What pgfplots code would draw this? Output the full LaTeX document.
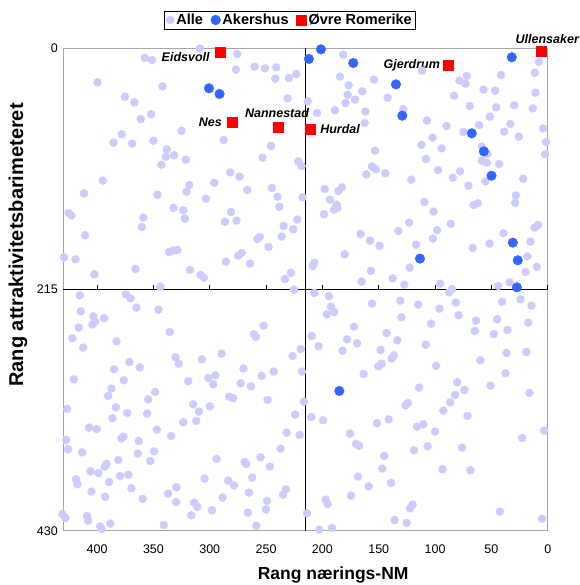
\documentclass[border=0pt]{standalone}
\usepackage{pgfplots}
\pgfplotsset{compat=1.18}
\usepackage{pgfplotstable}
\usepackage{fontspec}
\setmainfont{Liberation Sans}
\definecolor{alle}{RGB}{204,204,255}
\definecolor{akb}{RGB}{51,102,255}
\definecolor{ovr}{RGB}{255,0,0}

\pgfplotstableread{
x y
357.7 8.9
351.2 10.7
399.7 30.6
342.0 34.2
375.4 43.4
366.9 48.4
361.2 63.3
352.1 59.1
378.1 76.9
385.5 84.3
368.9 85.2
350.0 82.6
338.1 90.3
339.0 96.8
331.6 95.6
342.9 104.0
395.0 118.2
411.6 129.5
346.4 130.7
308.7 0.5
275.6 5.3
276.8 19.3
260.2 16.6
251.0 18.1
241.0 17.2
241.8 27.3
229.7 26.7
223.2 23.2
230.9 44.9
325.0 73.7
287.7 82.0
245.7 87.3
253.1 97.7
321.2 99.5
221.4 101.0
218.5 105.1
281.8 110.8
273.5 114.6
318.2 122.1
320.6 128.0
296.0 120.0
266.7 126.5
244.8 124.7
239.8 132.5
303.4 134.2
217.6 133.1
238.3 141.4
181.5 5.9
184.4 25.5
176.7 33.3
177.6 41.6
179.4 49.0
171.1 46.0
164.6 38.6
154.2 28.2
142.1 44.3
111.6 20.2
128.2 54.4
107.2 64.7
213.1 47.5
204.8 57.9
188.9 55.5
161.9 56.7
162.5 66.8
153.3 91.5
112.2 86.4
108.1 98.9
156.0 105.7
152.5 108.1
144.2 111.7
161.0 112.6
121.1 117.3
198.0 125.6
185.9 127.4
182.6 124.1
193.3 135.1
187.4 139.6
109.5 137.2
7.9 12.2
41.4 24.1
11.5 22.0
71.8 24.9
78.4 29.1
73.0 31.8
57.0 37.1
46.7 38.0
83.1 42.5
10.9 39.8
69.2 51.7
45.8 52.9
29.8 51.1
13.2 53.8
51.4 61.2
89.9 69.5
60.9 68.6
33.1 67.7
4.1 71.6
74.8 74.8
38.7 74.5
25.7 79.0
102.3 79.9
1.4 83.8
94.3 89.4
58.5 87.9
53.5 94.5
2.3 94.7
58.5 100.4
54.1 102.2
43.1 103.4
97.3 108.7
77.8 109.9
84.3 115.5
55.3 118.8
21.8 116.4
70.4 122.7
28.3 131.3
28.9 137.8
62.1 138.4
65.9 139.9
425.2 147.0
422.8 149.3
332.2 142.5
358.9 151.1
360.3 159.4
410.7 166.8
429.3 186.4
419.2 188.2
336.1 181.7
332.2 180.5
328.7 179.9
366.0 196.8
402.4 201.6
343.8 212.6
415.4 220.3
374.6 219.4
370.4 223.0
365.1 231.3
345.5 233.1
414.5 234.6
403.3 239.0
401.8 243.8
404.2 246.4
393.8 240.8
416.3 249.1
335.5 253.0
421.9 258.6
412.4 266.9
382.8 261.3
330.4 275.5
327.5 281.2
371.3 279.7
362.1 284.5
384.9 286.2
323.5 144.6
322.1 152.0
281.2 146.1
286.5 154.7
276.2 153.8
234.4 158.5
222.3 152.9
225.9 161.5
236.2 168.0
257.8 170.1
255.5 168.3
247.8 177.2
274.7 185.0
271.7 182.6
285.7 190.3
264.3 192.1
317.6 197.7
308.1 202.2
305.2 204.6
227.9 200.4
233.3 205.8
225.3 215.3
252.2 247.3
260.8 255.1
259.0 257.4
289.5 272.3
307.0 277.3
226.5 274.4
219.3 268.1
270.0 285.6
198.6 148.1
189.7 144.0
186.8 142.5
123.1 155.6
132.6 163.0
166.1 165.7
157.8 171.6
149.2 176.3
116.9 175.2
180.3 183.8
207.2 191.2
208.7 194.2
122.6 195.7
156.9 198.6
137.7 205.2
165.2 208.1
127.3 210.8
207.2 218.2
194.2 221.2
192.4 230.4
189.5 235.2
196.0 237.2
156.0 227.7
130.8 225.1
114.9 228.6
129.9 239.9
172.0 248.2
143.0 253.9
209.6 256.5
178.2 259.5
203.4 265.7
169.3 263.1
133.5 260.4
108.3 264.3
182.1 269.6
148.3 269.0
136.5 273.8
138.5 276.7
147.4 281.2
150.4 283.6
101.4 145.8
86.0 156.7
98.2 162.4
102.0 169.8
39.3 165.1
11.7 160.0
8.5 157.6
15.3 172.5
51.7 174.3
66.5 178.1
18.0 185.6
9.7 195.1
19.7 199.5
95.5 209.9
87.5 217.6
84.9 214.7
44.0 212.0
33.9 208.7
24.2 223.9
40.5 226.0
14.4 229.5
81.6 226.8
96.1 232.2
79.2 238.1
103.5 245.6
63.6 242.9
44.9 241.7
17.4 244.7
64.7 252.1
47.9 254.8
35.7 251.2
36.6 271.7
18.9 270.8
59.7 278.2
99.1 283.0
420.7 295.1
376.3 296.0
387.3 303.4
390.2 310.0
348.5 306.4
354.7 313.0
426.6 321.5
383.4 320.1
373.4 325.1
386.4 329.9
355.6 325.7
407.1 338.2
400.3 339.4
347.0 340.0
334.3 345.6
427.5 349.2
378.4 347.7
376.6 346.2
363.0 350.1
425.8 357.5
413.3 360.2
363.9 361.3
349.4 359.3
381.1 367.0
352.9 367.9
391.7 370.6
393.2 372.9
405.9 377.1
398.8 378.6
418.7 384.2
417.5 388.7
389.4 386.6
379.6 381.2
372.2 380.1
369.5 392.2
405.0 395.2
392.9 399.7
359.5 401.7
337.0 397.0
329.6 391.3
329.9 404.4
430.8 415.1
428.1 418.7
408.9 416.9
408.0 421.0
397.3 426.1
396.2 428.5
388.2 423.7
340.8 424.9
319.1 296.9
301.3 293.9
295.1 291.6
296.9 299.6
254.0 292.1
243.3 288.3
218.2 288.3
272.6 298.7
263.5 301.4
282.7 310.6
279.1 312.0
248.7 313.5
216.4 315.0
314.7 317.4
299.9 319.2
309.6 323.9
323.5 333.4
312.0 332.2
224.1 326.6
231.8 342.6
220.2 344.7
237.1 356.9
293.9 366.1
269.1 368.8
267.6 370.6
254.9 364.6
246.6 372.9
304.6 383.6
262.3 382.7
283.6 385.4
278.5 389.6
265.2 396.1
288.6 400.5
232.4 393.1
235.0 397.9
313.8 405.0
311.1 408.6
249.2 403.5
250.1 411.0
298.1 411.8
316.4 416.3
266.1 413.9
258.7 425.5
163.4 290.4
114.3 302.5
126.1 318.3
124.0 316.2
209.9 328.7
199.5 331.6
151.6 334.3
141.2 330.8
116.0 337.3
110.4 335.2
175.5 343.5
170.2 352.7
167.5 354.2
106.6 354.8
118.7 358.4
145.1 363.4
146.8 374.7
168.4 381.8
159.0 390.5
139.1 387.5
174.7 398.8
197.1 402.3
195.4 406.2
213.7 414.5
119.9 406.8
122.3 410.1
135.9 420.5
125.2 423.1
202.8 429.1
191.5 427.6
37.5 289.8
80.4 297.8
73.9 304.6
82.2 309.1
86.6 315.6
92.6 323.0
50.8 300.8
16.2 307.3
71.2 327.8
100.0 341.7
3.2 340.9
22.7 347.4
76.0 356.0
93.4 375.3
68.6 376.2
42.5 413.0
5.0 419.3
}\alle

\pgfplotstableread{
x y
300.7 35.9
291.3 41.0
201.3 1.2
212.0 9.8
172.6 13.4
134.7 32.4
129.1 60.3
31.9 8.3
67.4 76.0
56.7 92.1
49.9 113.8
113.4 187.6
31.0 173.4
26.6 189.1
27.4 213.2
185.0 305.5
}\akershus

\pgfplotstableread{
x y
290.4 4.2
280.0 65.9
238.9 70.7
211.1 72.5
88.7 15.7
5.8 3.0
}\ovre

\begin{document}
\begin{tikzpicture}
\begin{axis}[
  scale only axis, width=484.4pt, height=482.7pt,
  xmin=0, xmax=430, ymin=0, ymax=430,
  x dir=reverse, y dir=reverse,
  clip=false,
  axis line style={draw=gray!70, line width=0.8pt},
  xtick={0,50,100,150,200,250,300,350,400},
  ytick={0,215,430},
  tick style={draw=none},
  /pgf/number format/assume math mode=true,
  ticklabel style={font=\fontsize{12.5}{14}\selectfont},
  xticklabel style={yshift=-11pt},
  yticklabel style={xshift=-2pt},
  xlabel={Rang nærings-NM},
  ylabel={Rang attraktivitetsbarimeteret},
  xlabel style={at={(axis description cs:0.557,-0.092)}, anchor=center, inner sep=0pt, font=\bfseries\fontsize{17.5}{20}\selectfont},
  ylabel style={at={(axis description cs:-0.0935,0.592)}, anchor=center, inner sep=0pt, font=\bfseries\fontsize{20}{22}\selectfont},
  legend style={at={(axis description cs:0.468,1.058)}, anchor=center, legend columns=-1,
    draw=black, line width=0.6pt, font=\bfseries\fontsize{14.5}{17}\selectfont,
    inner xsep=2pt, inner ysep=1pt, /tikz/every even column/.append style={column sep=6pt}},
  legend cell align=left,
]
\path (axis description cs:-0.1307,-0.1125) rectangle (axis description cs:1.0646,1.0994);
\addplot[only marks, mark=*, mark size=4pt, mark options={draw=alle, fill=alle}] table[x=x,y=y] {\alle};
\addlegendentry{Alle}
\addplot[only marks, mark=*, mark size=4.8pt, mark options={draw=akb, fill=akb}] table[x=x,y=y] {\akershus};
\addlegendentry{Akershus}
\addplot[only marks, mark=square*, mark size=5pt, mark options={draw=ovr, fill=ovr}] table[x=x,y=y] {\ovre};
\addlegendentry{Øvre Romerike}
\draw[black, line width=0.9pt] (axis cs:430,215) -- (axis cs:0,215);
\draw[black, line width=0.9pt] (axis cs:215,0) -- (axis cs:215,430);
\pgfplotsinvokeforeach{0,50,100,150,200,250,300,350,400}{\draw[black, line width=0.9pt] (axis cs:#1,215) -- ++(0,4pt);}
\begin{scope}[font=\bfseries\itshape\fontsize{12.5}{15}\selectfont]
\node[anchor=east, inner sep=0pt] at (axis cs:299.9,8.0) {Eidsvoll};
\node[anchor=east, inner sep=0pt] at (axis cs:289.2,65.9) {Nes};
\node[anchor=center, inner sep=0pt] at (axis cs:240.3,57.9) {Nannestad};
\node[anchor=west, inner sep=0pt] at (axis cs:202.1,72.2) {Hurdal};
\node[anchor=east, inner sep=0pt] at (axis cs:95.5,15.1) {Gjerdrum};
\node[anchor=center, inner sep=0pt] at (axis cs:0.4,-8.0) {Ullensaker};
\end{scope}
\end{axis}
\end{tikzpicture}
\end{document}
